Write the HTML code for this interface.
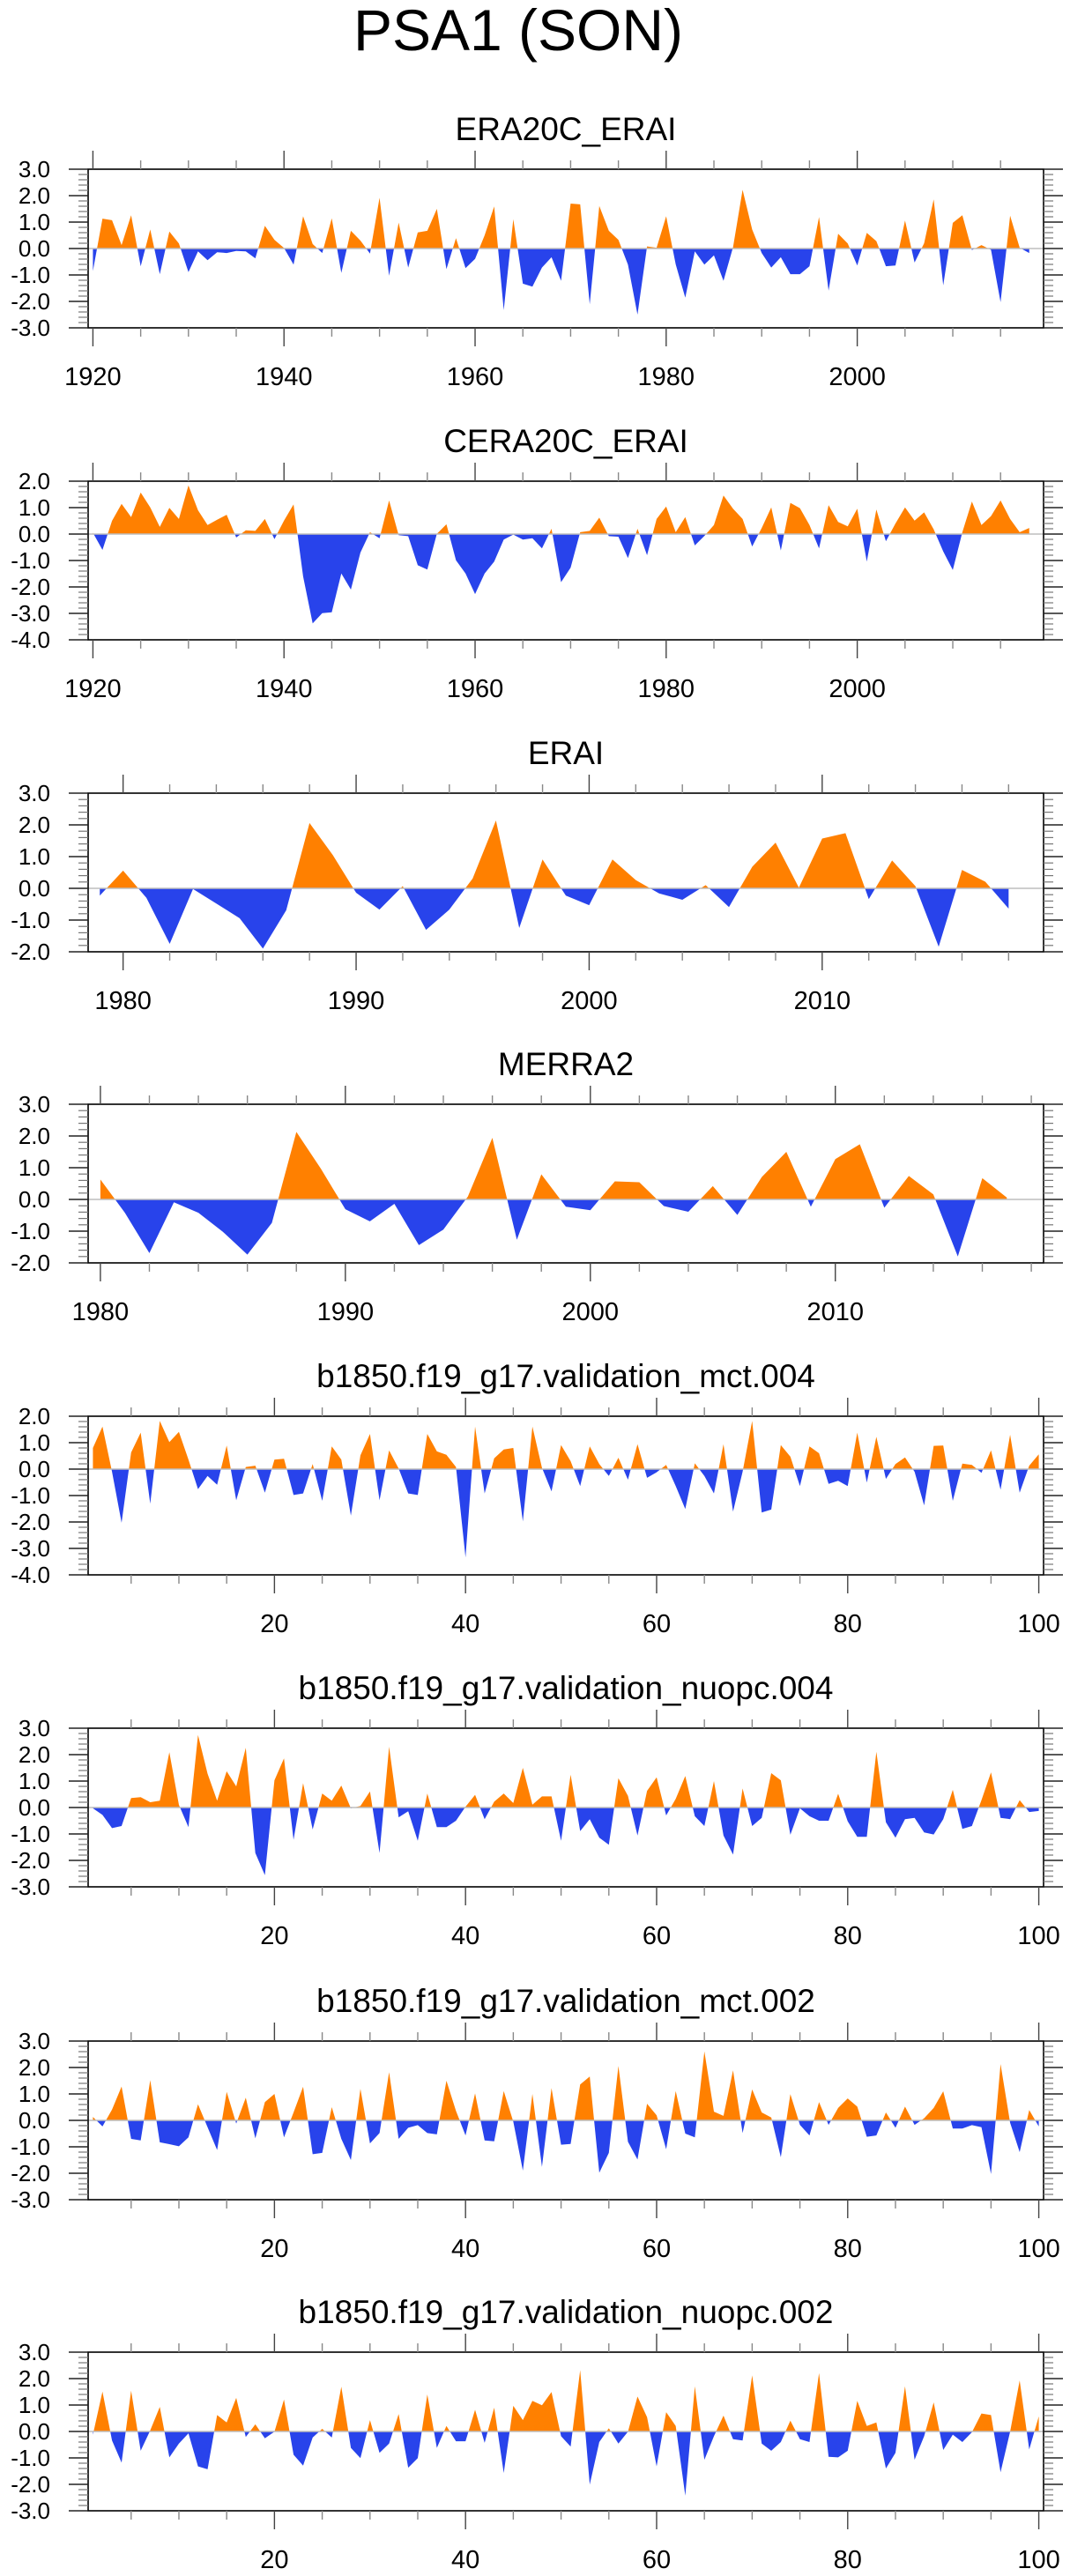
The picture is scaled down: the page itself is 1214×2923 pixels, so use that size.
<!DOCTYPE html>
<html><head><meta charset="utf-8"><title>PSA1 (SON)</title>
<style>
html,body{margin:0;padding:0;background:#fff;}
svg{display:block;font-family:"Liberation Sans",Arial,sans-serif;}
</style></head>
<body>
<svg id="fig" width="1214" height="2923" viewBox="0 0 1214 2923" xmlns="http://www.w3.org/2000/svg">
<rect x="0" y="0" width="1214" height="2923" fill="#fff"/>
<text x="588" y="57" font-size="66" text-anchor="middle" fill="#000">PSA1 (SON)</text>
</svg>
<script>
// ---- data arrays ----
const era20cYears = [1920, 2018];
const era20cValues = [-0.85,1.13,1.07,0.13,1.26,-0.67,0.72,-0.97,0.64,0.19,-0.89,-0.11,-0.44,-0.14,-0.17,-0.09,-0.11,-0.37,0.86,0.33,0.02,-0.61,1.22,0.17,-0.17,1.14,-0.92,0.67,0.3,-0.19,1.92,-1.03,0.98,-0.72,0.61,0.67,1.5,-0.78,0.39,-0.74,-0.39,0.5,1.59,-2.33,1.11,-1.33,-1.44,-0.72,-0.33,-1.22,1.7,1.67,-2.11,1.61,0.67,0.33,-0.61,-2.5,0.08,0.03,1.22,-0.6,-1.86,-0.11,-0.61,-0.26,-1.22,0.05,2.22,0.72,-0.17,-0.72,-0.33,-0.97,-0.97,-0.67,1.19,-1.59,0.56,0.19,-0.64,0.59,0.28,-0.67,-0.64,1.06,-0.53,0.2,1.86,-1.39,0.97,1.26,-0.06,0.13,-0.05,-2.03,1.24,0.03,-0.17];
const cera20cValues = [0.05,-0.6,0.5,1.14,0.64,1.57,1.01,0.27,0.99,0.57,1.84,0.9,0.34,0.54,0.73,-0.13,0.14,0.12,0.57,-0.19,0.51,1.12,-1.6,-3.38,-2.99,-2.96,-1.49,-2.1,-0.7,0.07,-0.16,1.27,-0.04,-0.08,-1.18,-1.34,0.01,0.37,-0.99,-1.49,-2.27,-1.49,-1.04,-0.21,-0.02,-0.21,-0.16,-0.54,0.2,-1.82,-1.27,0.07,0.12,0.62,-0.08,-0.1,-0.91,0.2,-0.8,0.57,1.04,0.07,0.64,-0.43,-0.07,0.34,1.46,0.96,0.57,-0.47,0.23,1.01,-0.62,1.18,0.98,0.34,-0.54,1.09,0.46,0.29,0.96,-1.04,0.93,-0.27,0.4,1.01,0.51,0.82,0.18,-0.66,-1.36,0.07,1.23,0.34,0.68,1.27,0.57,0.07,0.23];
const eraiValues = [-0.23,0.56,-0.3,-1.75,-0.02,-0.48,-0.94,-1.9,-0.69,2.06,1.05,-0.14,-0.67,0.07,-1.31,-0.67,0.31,2.14,-1.25,0.91,-0.23,-0.53,0.91,0.26,-0.16,-0.36,0.1,-0.59,0.68,1.44,0.02,1.57,1.74,-0.34,0.88,0.07,-1.84,0.58,0.21,-0.64];
const merra2Values = [0.63,-0.42,-1.69,-0.09,-0.42,-1.02,-1.74,-0.74,2.13,0.97,-0.31,-0.69,-0.14,-1.44,-0.95,0.09,1.94,-1.27,0.79,-0.23,-0.34,0.57,0.54,-0.21,-0.39,0.42,-0.49,0.71,1.5,-0.23,1.27,1.74,-0.26,0.74,0.16,-1.8,0.67,0.06];
const mct004Values = [0.8,1.61,-0.1,-2.03,0.63,1.38,-1.31,1.82,1.02,1.41,0.36,-0.76,-0.26,-0.59,0.89,-1.18,0.08,0.13,-0.89,0.36,0.39,-0.98,-0.92,0.19,-1.2,0.86,0.36,-1.76,0.52,1.33,-1.18,0.71,0.02,-0.92,-0.98,1.33,0.67,0.54,0.08,-3.34,1.61,-0.92,0.41,0.74,0.8,-1.98,1.61,0.05,-0.84,0.91,0.3,-0.64,0.86,0.19,-0.26,0.43,-0.4,0.94,-0.33,-0.12,0.16,-0.64,-1.51,0.22,-0.26,-0.92,0.94,-1.61,-0.1,1.82,-1.64,-1.53,0.91,0.47,-0.64,0.86,0.6,-0.56,-0.44,-0.64,1.38,-0.51,1.22,-0.37,0.19,0.44,-0.1,-1.37,0.88,0.89,-1.2,0.21,0.16,-0.14,0.71,-0.78,1.3,-0.89,0.13,0.56];
const nuopc004Values = [-0.03,-0.28,-0.78,-0.7,0.36,0.39,0.2,0.26,2.09,0.1,-0.74,2.74,1.28,0.26,1.37,0.8,2.26,-1.72,-2.56,1.03,1.86,-1.22,0.92,-0.83,0.53,0.26,0.83,-0.03,0.06,0.61,-1.72,2.3,-0.37,-0.14,-1.26,0.53,-0.74,-0.74,-0.5,0.03,0.48,-0.44,0.22,0.53,0.17,1.5,0.11,0.42,0.42,-1.26,1.24,-0.89,-0.44,-1.14,-1.41,1.11,0.44,-1.06,0.63,1.14,-0.3,0.33,1.19,-0.33,-0.7,1.0,-1.06,-1.78,0.72,-0.7,-0.39,1.3,1.03,-1.03,-0.03,-0.33,-0.5,-0.5,0.52,-0.52,-1.11,-1.11,2.11,-0.56,-1.14,-0.44,-0.39,-0.94,-1.02,-0.44,0.67,-0.81,-0.7,0.28,1.33,-0.39,-0.44,0.28,-0.17,-0.13];
const mct002Values = [0.13,-0.23,0.41,1.28,-0.7,-0.76,1.52,-0.83,-0.9,-0.98,-0.64,0.61,-0.26,-1.12,1.08,-0.12,0.86,-0.68,0.69,1.0,-0.64,0.3,1.27,-1.28,-1.23,0.5,-0.7,-1.5,1.19,-0.87,-0.48,1.82,-0.7,-0.28,-0.18,-0.48,-0.53,1.5,0.36,-0.57,1.02,-0.76,-0.79,1.11,-0.05,-1.9,1.0,-1.76,1.22,-0.92,-0.89,1.36,1.66,-1.98,-1.23,2.06,-0.81,-1.48,0.63,0.19,-1.09,1.11,-0.5,-0.64,2.61,0.33,0.17,1.89,-0.48,1.17,0.3,0.11,-1.39,0.99,-0.17,-0.57,0.69,-0.17,0.47,0.83,0.52,-0.62,-0.57,0.3,-0.28,0.52,-0.17,0.08,0.47,1.1,-0.31,-0.31,-0.18,-0.26,-2.03,2.13,-0.09,-1.2,0.39,-0.23];
const nuopc002Values = [-0.12,1.51,-0.34,-1.18,1.54,-0.73,0.04,0.93,-0.98,-0.46,-0.07,-1.32,-1.43,0.62,0.34,1.27,-0.21,0.27,-0.26,-0.01,1.21,-0.88,-1.29,-0.23,0.1,-0.23,1.69,-0.62,-1.01,0.43,-0.81,-0.46,0.66,-1.37,-1.01,1.4,-0.62,0.21,-0.37,-0.37,0.82,-0.43,0.9,-1.57,0.97,0.43,1.16,0.99,1.49,-0.18,-0.57,2.32,-2.01,-0.4,0.12,-0.46,-0.01,1.32,0.54,-1.32,0.73,0.21,-2.43,1.71,-1.07,-0.18,0.6,-0.29,-0.34,2.12,-0.46,-0.73,-0.4,0.41,-0.29,-0.4,2.21,-0.96,-0.98,-0.73,1.16,0.21,0.34,-1.4,-0.81,1.71,-1.07,-0.18,1.1,-0.7,-0.12,-0.4,-0.03,0.68,0.62,-1.54,-0.01,1.93,-0.68,0.57];
const titles = ["ERA20C_ERAI","CERA20C_ERAI","ERAI","MERRA2","b1850.f19_g17.validation_mct.004","b1850.f19_g17.validation_nuopc.004","b1850.f19_g17.validation_mct.002","b1850.f19_g17.validation_nuopc.002"];
const startX = [1920,1920,1979,1980,1,1,1,1];
const yRanges = [[-3,3],[-4,2],[-2,3],[-2,3],[-4,2],[-3,3],[-3,3],[-3,3]];
const xRanges = [[1919.5,2019.5],[1919.5,2019.5],[1978.5,2019.5],[1979.5,2018.5],[0.5,100.5],[0.5,100.5],[0.5,100.5],[0.5,100.5]];
const majorTicks = [[1920,1940,1960,1980,2000],[1920,1940,1960,1980,2000],[1980,1990,2000,2010],[1980,1990,2000,2010],[20,40,60,80,100],[20,40,60,80,100],[20,40,60,80,100],[20,40,60,80,100]];
const minorSteps = [5,5,2,2,5,5,5,5];
const seriesList = [era20cValues,cera20cValues,eraiValues,merra2Values,mct004Values,nuopc004Values,mct002Values,nuopc002Values];
const panelNames = ["era20c-erai","cera20c-erai","erai","merra2","mct-004","nuopc-004","mct-002","nuopc-002"];

// ---- layout ----
const panelTops = [192,546,900,1253,1607,1961,2316,2669];
const PL = 100, PR = 1184, PH = 180;
const NS = "http://www.w3.org/2000/svg";
const svg = document.getElementById('fig');
function mk(tag, attrs, parent){ const e=document.createElementNS(NS,tag); for(const k in attrs) e.setAttribute(k,attrs[k]); (parent||svg).appendChild(e); return e; }

seriesList.forEach((vals, p) => {
  const top = panelTops[p], bot = top + PH;
  const [ymin, ymax] = yRanges[p], [xmin, xmax] = xRanges[p];
  const sx = v => PL + (v - xmin) / (xmax - xmin) * (PR - PL);
  const sy = v => bot - (v - ymin) / (ymax - ymin) * PH;
  const g = mk('g', {});
  
  

  const t = mk('text', {x:(PL+PR)/2, y:top-33, 'font-size':37, 'text-anchor':'middle', fill:'#000'}, g);
  t.textContent = titles[p];
  
  

  // area polygon
  const y0 = sy(0);
  let d = 'M' + sx(startX[p]) + ',' + y0;
  vals.forEach((v,i) => { d += 'L' + sx(startX[p]+i).toFixed(2) + ',' + sy(v).toFixed(2); });
  d += 'L' + sx(startX[p]+vals.length-1) + ',' + y0 + 'Z';
  const cpA = mk('clipPath', {id:'ca'+p}, g); mk('rect', {x:PL, y:top, width:PR-PL, height:y0-top}, cpA);
  const cpB = mk('clipPath', {id:'cb'+p}, g); mk('rect', {x:PL, y:y0, width:PR-PL, height:bot-y0}, cpB);
  const pos = mk('path', {d:d, fill:'#ff8000', 'clip-path':'url(#ca'+p+')'}, g);
  
  
  const neg = mk('path', {d:d, fill:'#2843eb', 'clip-path':'url(#cb'+p+')'}, g);
  
  
  const zl = mk('line', {x1:PL, x2:PR, y1:y0, y2:y0, stroke:'#bdbdbd', 'stroke-width':1.5}, g);
  
  

  // frame
  const fr = mk('rect', {x:PL, y:top, width:PR-PL, height:PH, fill:'none', stroke:'#000', 'stroke-width':1.6}, g);
  
  

  // y ticks
  for (let k = Math.round(ymin*5); k <= Math.round(ymax*5); k++) {
    const v = k/5, y = sy(v), major = (k % 5 === 0);
    const len = major ? 22 : 11;
    mk('line', {x1:PL-len, x2:PL, y1:y, y2:y, stroke:major?'#222':'#777', 'stroke-width':major?1.6:1.2}, g);
    mk('line', {x1:PR, x2:PR+len, y1:y, y2:y, stroke:major?'#222':'#777', 'stroke-width':major?1.6:1.2}, g);
    if (major) {
      const lb = mk('text', {x:57, y:y+9, 'font-size':26, 'text-anchor':'end', fill:'#000'}, g);
      lb.textContent = v.toFixed(1);
      
      
    }
  }
  // x ticks
  const ms = minorSteps[p];
  for (let v = Math.ceil(xmin/ms)*ms; v <= xmax; v += ms) {
    const x = sx(v), major = majorTicks[p].includes(v);
    const len = major ? 21 : 10;
    mk('line', {x1:x, x2:x, y1:bot, y2:bot+len, stroke:major?'#444':'#888', 'stroke-width':1.4}, g);
    mk('line', {x1:x, x2:x, y1:top-len, y2:top, stroke:major?'#444':'#888', 'stroke-width':1.4}, g);
  }
  majorTicks[p].forEach(v => {
    const lb = mk('text', {x:sx(v), y:bot+65, 'font-size':29, 'text-anchor':'middle', fill:'#000'}, g);
    lb.textContent = String(v);
    
    
  });
});
</script>
</body></html>
